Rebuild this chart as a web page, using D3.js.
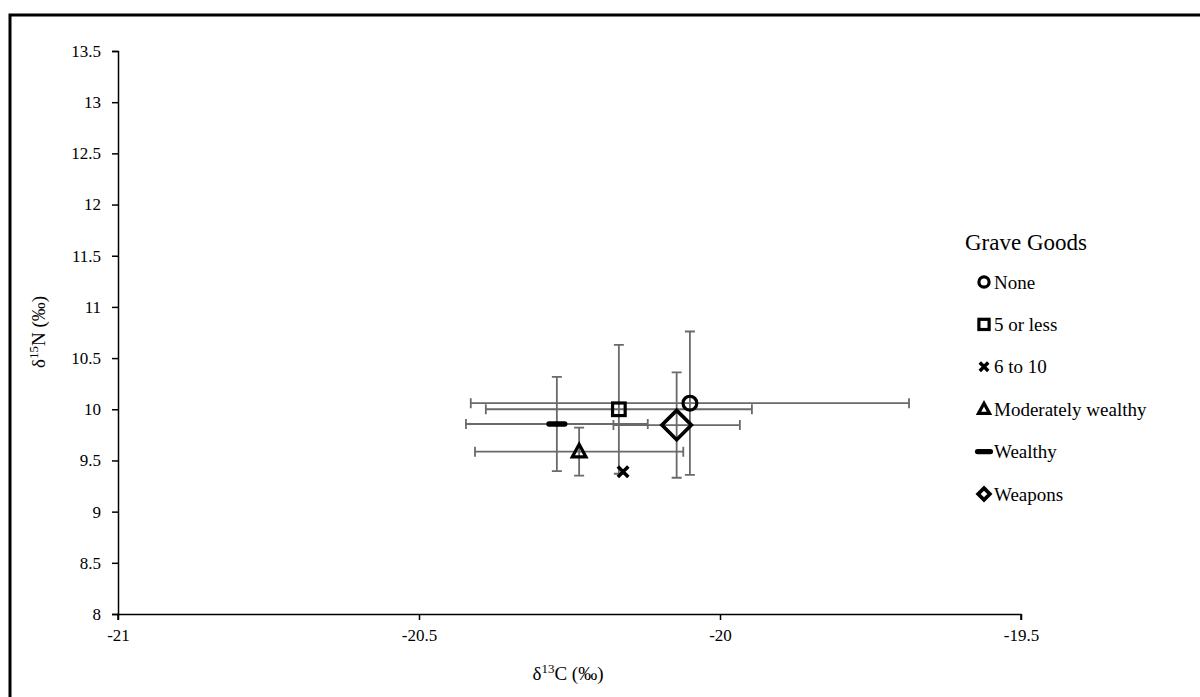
<!DOCTYPE html>
<html><head><meta charset="utf-8">
<script src="https://cdn.jsdelivr.net/npm/d3@7"></script>
<style>body{margin:0;background:#fff;font-family:"Liberation Serif",serif}svg{display:block}</style>
</head><body>
<script>
const categories = ["None","5 or less","6 to 10","Moderately wealthy","Wealthy","Weapons"];
const symbols = ["circle","square","x","triangle","dash","diamond"];
const d13C = [-20.05,-20.168,-20.161,-20.234,-20.271,-20.072];
const d15N = [10.06,10.0,9.39,9.586,9.856,9.846];
const errC = [0.364,0.221,0,0.173,0.151,0.105];
const errN = [0.70,0.63,0,0.235,0.46,0.515];
const xTicks = [-21,-20.5,-20,-19.5];
const yTicks = [8,8.5,9,9.5,10,10.5,11,11.5,12,12.5,13,13.5];

const FF="Liberation Serif, Tinos, Times New Roman, DejaVu Serif, serif";
const W=1200,H=697;
const svg=d3.select("body").append("svg").attr("width",W).attr("height",H)
  .style("font-family",FF);
svg.append("rect").attr("x",10).attr("y",15).attr("width",1300).attr("height",800)
  .attr("fill","none").attr("stroke","#000").attr("stroke-width",3);

const x=d3.scaleLinear().domain([-21,-19.5]).range([118,1021]);
const y=d3.scaleLinear().domain([8,13.5]).range([614,51]);
const fmt=d=>String(d);

const xa=svg.append("g").attr("transform","translate(0,614)")
  .call(d3.axisBottom(x).tickValues(xTicks).tickSize(6).tickPadding(9).tickFormat(fmt));
const ya=svg.append("g").attr("transform","translate(118,0)")
  .call(d3.axisLeft(y).tickValues(yTicks).tickSize(6).tickPadding(11).tickFormat(fmt));
[xa,ya].forEach(a=>{
  a.attr("font-size",17).attr("font-family",FF);
  a.select(".domain").attr("stroke","#000").attr("stroke-width",1.5);
  a.selectAll(".tick line").attr("stroke","#000").attr("stroke-width",1.5);
  a.selectAll("text").attr("font-size",17).attr("fill","#000").style("font-family",FF);
});
ya.select(".domain").attr("d","M-6,51.5H0.5V614.5H-6");
xa.select(".domain").attr("d","M118,6V0.5H1021V6");

const xt=svg.append("text").attr("x",568).attr("y",680).attr("text-anchor","middle").attr("font-size",19).style("font-family",FF);
xt.append("tspan").text("δ");
xt.append("tspan").attr("font-size",13).attr("dy",-7).text("13");
xt.append("tspan").attr("dy",7).text("C (‰)");
const yt=svg.append("text").attr("transform","translate(45,332) rotate(-90)").attr("text-anchor","middle").attr("font-size",19).style("font-family",FF);
yt.append("tspan").text("δ");
yt.append("tspan").attr("font-size",13).attr("dy",-7).text("15");
yt.append("tspan").attr("dy",7).text("N (‰)");

const data=categories.map((c,i)=>({c,s:symbols[i],x:d13C[i],y:d15N[i],ex:errC[i],ey:errN[i]}));
const eb=svg.append("g").attr("stroke","#6a6a6a").attr("stroke-width",1.8).attr("fill","none");
const cap=5;
data.forEach(d=>{
  if(d.ex>0){
    const x0=x(d.x-d.ex),x1=x(d.x+d.ex),yy=y(d.y);
    eb.append("path").attr("d",`M${x0},${yy}H${x1}M${x0},${yy-cap}V${yy+cap}M${x1},${yy-cap}V${yy+cap}`);
  }
  if(d.ey>0){
    const y0=y(d.y-d.ey),y1=y(d.y+d.ey),xx=x(d.x);
    eb.append("path").attr("d",`M${xx},${y0}V${y1}M${xx-cap},${y0}H${xx+cap}M${xx-cap},${y1}H${xx+cap}`);
  }
});

function drawSym(g,s,cx,cy,k,w){
  if(s==="circle") g.append("circle").attr("cx",cx).attr("cy",cy).attr("r",6*k).attr("fill","none").attr("stroke","#000").attr("stroke-width",w);
  else if(s==="square") g.append("rect").attr("x",cx-6*k).attr("y",cy-6*k).attr("width",12*k).attr("height",12*k).attr("fill","none").attr("stroke","#000").attr("stroke-width",w);
  else if(s==="x") g.append("path").attr("d",`M${cx-5*k},${cy-5*k}L${cx+5*k},${cy+5*k}M${cx-5*k},${cy+5*k}L${cx+5*k},${cy-5*k}`).attr("stroke","#000").attr("stroke-width",w*1.1);
  else if(s==="triangle") g.append("path").attr("d",`M${cx},${cy-7*k}L${cx+6.5*k},${cy+5*k}L${cx-6.5*k},${cy+5*k}Z`).attr("fill","none").attr("stroke","#000").attr("stroke-width",w).attr("stroke-linejoin","miter");
  else if(s==="dash") g.append("path").attr("d",`M${cx-7.5*k},${cy}H${cx+7.5*k}`).attr("stroke","#000").attr("stroke-width",w*1.7).attr("stroke-linecap","round");
  else if(s==="diamond") g.append("path").attr("d",`M${cx},${cy-14*k}L${cx+14*k},${cy}L${cx},${cy+14*k}L${cx-14*k},${cy}Z`).attr("fill","none").attr("stroke","#000").attr("stroke-width",w*1.15);
}
const mk=svg.append("g");
data.forEach(d=>drawSym(mk,d.s,x(d.x),y(d.y),d.s==="circle"?1.15:1.05,3.2));

const lg=svg.append("g");
lg.append("text").attr("x",965).attr("y",250).attr("font-size",23).style("font-family",FF).text("Grave Goods");
data.forEach((d,i)=>{
  const cy=282+i*42.4;
  drawSym(lg,d.s,984,cy,d.s==="diamond"?0.42:0.85,3.2);
  lg.append("text").attr("x",994).attr("y",cy+6.5).attr("font-size",19).style("font-family",FF).text(d.c);
});
</script>
</body></html>
